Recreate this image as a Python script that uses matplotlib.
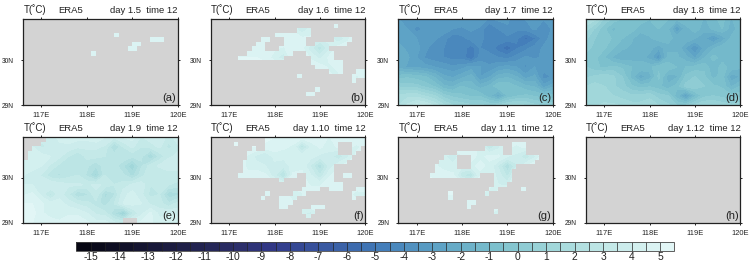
import numpy as np
import matplotlib
matplotlib.use("Agg")
import matplotlib.pyplot as plt
from matplotlib.colors import LinearSegmentedColormap

plt.rcParams['font.family'] = ['Liberation Sans', 'DejaVu Sans']

W, H = 749, 265

days = ["1.5", "1.6", "1.7", "1.8", "1.9", "1.10", "1.11", "1.12"]
letters = ["a", "b", "c", "d", "e", "f", "g", "h"]
xticks = [117, 118, 119, 120]
xticklabels = ["117E", "118E", "119E", "120E"]
yticks = [29, 30]
yticklabels = ["29N", "30N"]
cbar_ticks = list(range(-15, 6))

# temperature fields (top row first)
field_a = [[4.8, 4.6], [4.6, 4.8]]

field_b = [
    [5.2, 5.2, 5.2, 5.2, 5.2, 5.2, 5.2, 5.2, 5.2, 5.0, 4.8, 5.0, 5.0, 4.8, 5.0, 5.2, 5.0, 5.0],
    [5.2, 5.2, 5.2, 5.2, 5.2, 5.2, 5.0, 5.0, 5.0, 4.4, 3.4, 4.2, 4.8, 4.8, 4.6, 4.8, 4.8, 4.8],
    [5.2, 5.2, 5.2, 5.2, 5.2, 5.0, 4.8, 5.0, 5.0, 4.8, 4.6, 4.6, 4.0, 4.2, 3.4, 4.2, 5.0, 5.0],
    [5.2, 5.2, 5.2, 5.0, 4.8, 5.0, 5.0, 4.6, 4.4, 5.0, 4.6, 3.6, 2.6, 3.8, 4.8, 5.0, 5.0, 5.0],
    [5.2, 5.2, 5.2, 5.0, 5.0, 5.0, 4.8, 4.2, 3.6, 5.0, 5.0, 4.4, 3.8, 4.6, 5.0, 5.0, 5.0, 5.0],
    [5.2, 5.2, 5.2, 5.2, 5.2, 5.2, 5.2, 5.0, 5.0, 5.0, 4.8, 4.8, 4.8, 4.4, 4.6, 5.0, 5.0, 4.8],
    [5.2, 5.2, 5.2, 5.2, 5.2, 5.0, 5.0, 5.0, 5.0, 4.8, 4.8, 5.0, 5.0, 4.6, 4.4, 4.8, 4.4, 4.6],
    [5.2, 5.2, 5.2, 5.2, 5.2, 5.2, 5.2, 5.2, 5.0, 5.0, 5.0, 5.0, 5.0, 5.0, 5.0, 5.0, 4.8, 5.0],
    [5.2, 5.2, 5.2, 5.2, 5.2, 5.2, 5.2, 5.2, 5.2, 5.0, 4.8, 4.8, 5.0, 5.0, 5.0, 5.0, 5.0, 5.0],
    [5.2, 5.2, 5.2, 5.2, 5.2, 5.2, 5.2, 5.2, 5.2, 5.2, 5.0, 5.0, 5.0, 5.0, 5.0, 5.0, 5.0, 5.0],
]

field_c = [
    [-3.0, -3.0, -3.0, -3.2, -3.0, -3.0, -3.2, -3.2, -3.0, -3.2, -3.6, -3.4, -3.4, -3.8, -3.5, -3.2, -3.5, -3.2],
    [-2.8, -3.0, -3.8, -3.3, -3.0, -3.2, -3.5, -3.6, -3.4, -3.6, -4.6, -4.0, -3.6, -3.9, -3.8, -3.4, -4.0, -3.4],
    [-2.6, -2.8, -3.0, -3.2, -3.4, -3.8, -4.4, -4.2, -3.8, -3.9, -4.2, -4.0, -4.2, -4.4, -5.2, -4.6, -3.8, -3.2],
    [-2.4, -2.6, -2.8, -3.4, -3.8, -4.0, -4.2, -4.2, -4.8, -4.0, -4.2, -4.8, -5.4, -4.6, -4.2, -3.8, -3.4, -3.2],
    [-2.2, -2.4, -3.0, -3.6, -3.8, -4.0, -4.2, -4.2, -5.0, -3.8, -3.8, -4.0, -4.2, -3.8, -3.4, -3.6, -3.4, -3.0],
    [-2.2, -2.6, -2.6, -2.8, -3.0, -3.2, -3.4, -3.2, -2.8, -3.0, -3.4, -3.0, -2.8, -3.0, -3.6, -3.0, -3.2, -3.2],
    [-0.8, -0.6, -0.8, -1.0, -1.6, -2.4, -2.6, -2.2, -1.8, -3.0, -2.6, -1.8, -1.6, -2.0, -2.8, -2.4, -3.8, -3.4],
    [0.4, 0.2, 0.2, -0.2, -0.6, -1.4, -1.6, -1.0, -1.2, -1.8, -1.4, -0.6, -0.6, -1.0, -1.4, -1.6, -2.8, -2.2],
    [1.6, 1.8, 1.8, 1.4, 1.0, 0.2, -0.2, -0.4, -0.6, -0.6, -1.4, -2.4, -1.0, -0.6, -0.4, -0.6, -0.8, -0.8],
    [2.0, 2.6, 3.2, 3.0, 2.4, 1.6, 1.0, 0.8, 0.6, 0.6, 0.4, 0.6, 1.0, 1.2, 1.0, 0.6, 0.4, 0.4],
]

field_d = [
    [2.0, 1.6, 0.4, -0.2, -0.6, -0.6, -0.8, -1.0, -0.8, -1.0, -1.4, -1.0, -1.0, -1.6, -1.2, -0.8, -1.6, -1.0],
    [1.2, 0.4, -0.4, -1.2, -0.8, -0.8, -1.2, -1.2, -1.0, -1.4, -3.0, -1.8, -1.2, -1.8, -1.4, -1.0, -1.8, -1.2],
    [0.6, 0.0, -0.2, -0.6, -1.0, -1.4, -2.0, -1.6, -1.2, -1.4, -1.6, -1.6, -2.0, -2.4, -3.2, -2.4, -1.4, -1.0],
    [0.2, -0.2, -0.4, -1.0, -1.4, -1.6, -1.8, -1.8, -2.4, -1.6, -1.6, -2.6, -3.6, -2.4, -1.6, -1.2, -1.0, -1.0],
    [-0.2, -0.4, -1.0, -1.6, -2.0, -1.8, -1.8, -2.2, -3.4, -1.4, -1.4, -1.8, -2.6, -1.6, -0.8, -1.2, -1.0, -1.0],
    [0.0, -0.4, -0.6, -0.4, -0.6, -1.0, -1.0, -1.2, -0.6, -0.6, -1.0, -1.0, -0.8, -0.6, -1.4, -0.8, -1.2, -1.4],
    [0.4, 0.6, 0.8, 0.6, 0.0, -1.2, -2.4, -1.8, -0.4, -1.8, -1.6, -0.4, 0.0, -0.4, -1.2, -0.8, -2.4, -2.0],
    [1.0, 1.2, 1.0, 0.6, 0.2, -0.4, -0.8, -0.6, -0.8, -1.4, -0.8, 0.2, 0.4, 0.0, -0.4, -0.6, -1.6, -1.0],
    [1.2, 1.4, 1.2, 1.0, 0.8, 0.6, 0.6, 0.8, 0.2, 0.0, -1.4, -3.0, -1.2, -0.2, 0.0, -0.2, -0.4, -0.2],
    [1.0, 1.4, 1.6, 1.6, 1.4, 1.2, 1.2, 1.4, 1.0, 0.6, 0.0, 0.0, 0.6, 1.0, 1.0, 0.8, 0.6, 0.8],
]

field_e = [
    [4.6, 4.4, 3.6, 3.6, 4.2, 4.4, 4.2, 4.2, 4.4, 4.0, 3.6, 4.0, 4.2, 3.4, 3.8, 4.0, 3.2, 3.8],
    [4.2, 4.0, 3.4, 3.6, 3.8, 3.8, 3.6, 3.6, 3.6, 3.4, 1.8, 3.0, 3.6, 3.0, 3.2, 3.6, 2.8, 3.4],
    [4.4, 4.2, 4.2, 4.0, 3.6, 3.0, 2.4, 3.2, 3.2, 3.0, 2.8, 3.0, 2.6, 2.6, 1.4, 2.6, 3.4, 3.6],
    [4.4, 4.2, 4.0, 3.4, 2.8, 2.8, 2.8, 2.6, 2.0, 2.8, 2.8, 2.0, 1.0, 2.4, 3.2, 3.6, 3.8, 3.6],
    [4.0, 3.8, 3.4, 2.6, 2.4, 2.8, 3.0, 2.4, 1.2, 3.0, 3.0, 2.6, 1.8, 2.8, 3.4, 3.0, 3.2, 3.4],
    [4.0, 4.0, 4.0, 4.0, 3.8, 3.6, 3.6, 3.4, 3.6, 3.4, 3.0, 3.2, 3.6, 3.8, 3.0, 3.4, 3.0, 2.8],
    [4.4, 4.6, 3.8, 2.8, 3.8, 3.0, 2.0, 2.4, 3.4, 1.8, 2.4, 3.8, 4.2, 3.6, 2.8, 3.0, 1.6, 1.8],
    [5.0, 5.0, 4.6, 4.2, 4.2, 3.8, 3.4, 3.2, 2.8, 2.2, 3.0, 4.0, 4.2, 4.0, 3.4, 3.2, 2.6, 3.2],
    [5.2, 5.2, 4.6, 4.2, 4.2, 4.4, 4.4, 4.0, 3.4, 3.2, 2.0, 0.8, 2.8, 3.8, 4.6, 3.8, 4.0, 3.8],
    [5.0, 5.0, 4.8, 4.8, 4.6, 4.8, 4.8, 4.6, 4.2, 4.2, 3.6, 3.4, 4.4, 4.6, 4.6, 4.2, 4.2, 4.4],
]

field_f = [
    [5.2, 5.2, 5.2, 5.2, 5.2, 5.2, 5.2, 5.0, 5.0, 4.8, 4.8, 5.0, 5.0, 4.4, 5.0, 5.0, 4.8, 4.8],
    [5.2, 5.2, 5.2, 5.0, 5.0, 5.0, 4.8, 4.8, 4.6, 4.4, 2.6, 4.0, 4.6, 4.2, 4.6, 4.6, 4.4, 4.6],
    [5.2, 5.2, 5.2, 5.0, 4.4, 3.8, 3.4, 4.2, 4.2, 4.4, 4.4, 4.2, 3.8, 3.8, 3.0, 3.8, 4.6, 4.8],
    [5.2, 5.2, 5.0, 4.8, 4.4, 4.2, 4.0, 3.8, 3.6, 4.2, 4.4, 3.4, 2.0, 3.6, 4.4, 4.8, 5.0, 5.0],
    [5.2, 5.2, 5.0, 4.8, 4.6, 4.8, 4.6, 3.6, 2.2, 4.6, 4.6, 4.0, 3.0, 4.4, 4.8, 4.8, 4.8, 5.0],
    [5.2, 5.2, 5.2, 5.2, 5.2, 5.0, 5.0, 4.8, 4.8, 5.0, 4.8, 4.4, 4.4, 4.8, 4.8, 5.0, 5.0, 4.8],
    [5.2, 5.2, 5.2, 5.2, 5.2, 5.0, 4.8, 4.8, 5.0, 4.0, 4.4, 5.0, 5.0, 4.8, 4.6, 4.8, 4.2, 4.4],
    [5.2, 5.2, 5.2, 5.2, 5.2, 5.0, 4.8, 4.8, 4.8, 4.6, 4.8, 5.0, 5.0, 5.0, 5.0, 5.0, 4.8, 5.0],
    [5.2, 5.2, 5.2, 5.2, 5.2, 5.2, 5.0, 5.0, 4.8, 4.8, 4.0, 3.8, 4.6, 5.0, 5.0, 5.0, 5.0, 5.0],
    [5.2, 5.2, 5.2, 5.2, 5.2, 5.2, 5.2, 5.0, 5.0, 5.0, 5.0, 5.0, 5.0, 5.0, 5.0, 5.0, 5.0, 5.0],
]

field_g = [
    [5.2, 5.2, 5.2, 5.2, 5.2, 5.2, 5.2, 5.0, 5.0, 5.0, 4.6, 4.6, 4.8, 4.8, 4.8, 5.0, 5.0, 5.0],
    [5.2, 5.2, 5.2, 5.2, 5.2, 5.2, 5.0, 5.0, 4.8, 4.4, 3.0, 3.8, 4.6, 4.4, 4.6, 4.8, 4.8, 4.8],
    [5.2, 5.2, 5.2, 5.2, 5.0, 4.2, 3.4, 4.4, 4.6, 4.4, 4.6, 4.6, 4.0, 3.8, 3.0, 3.8, 5.0, 5.0],
    [5.2, 5.2, 5.2, 5.0, 4.6, 4.2, 4.2, 4.2, 4.4, 4.6, 4.4, 3.4, 2.0, 3.4, 4.4, 5.0, 5.0, 5.0],
    [5.2, 5.2, 5.2, 5.0, 4.8, 4.8, 4.6, 3.0, 2.4, 4.4, 4.4, 3.8, 2.8, 4.4, 4.8, 5.0, 5.0, 5.0],
    [5.2, 5.2, 5.2, 5.2, 5.2, 5.2, 5.2, 5.0, 5.0, 5.0, 4.6, 4.0, 3.8, 5.0, 5.0, 5.0, 5.0, 5.0],
    [5.2, 5.2, 5.2, 5.2, 4.6, 5.0, 5.0, 4.8, 5.0, 4.4, 4.4, 4.8, 5.0, 4.8, 4.6, 5.0, 5.0, 5.0],
    [5.2, 5.2, 5.2, 5.2, 5.0, 5.0, 5.0, 4.8, 5.0, 5.0, 4.8, 4.8, 5.0, 5.0, 5.0, 5.0, 5.0, 5.0],
    [5.2, 5.2, 5.2, 5.2, 5.2, 5.2, 5.0, 4.8, 5.0, 5.0, 4.6, 4.2, 4.6, 5.0, 5.0, 5.0, 5.0, 5.0],
    [5.2, 5.2, 5.2, 5.2, 5.2, 5.2, 5.2, 5.0, 5.0, 5.0, 5.0, 5.0, 5.0, 5.0, 5.0, 5.0, 5.0, 5.0],
]

field_h = [[4.8, 4.6], [4.6, 4.8]]

# grid boxes with data: (row from top, first col, last col)
filled_a = [(3, 20, 20), (4, 28, 30), (5, 24, 25), (6, 23, 24), (7, 15, 15)]

filled_b = [(1, 27, 27), (2, 19, 21), (3, 14, 21), (4, 11, 12), (4, 16, 20), (4, 27, 30),
            (5, 10, 11), (5, 16, 20), (5, 23, 29), (6, 9, 11), (6, 15, 25),
            (7, 8, 17), (7, 21, 26), (8, 6, 15), (8, 22, 26), (9, 22, 28), (10, 23, 28),
            (11, 26, 28), (11, 32, 33), (12, 19, 19), (12, 31, 33), (13, 31, 31),
            (15, 23, 23), (16, 21, 22)]

filled_f = [(0, 12, 33), (1, 5, 5), (1, 12, 27), (1, 31, 33), (2, 9, 9), (2, 12, 27), (2, 31, 32),
            (3, 8, 27), (3, 31, 31), (4, 8, 30), (5, 7, 29), (6, 7, 26), (7, 7, 26),
            (8, 6, 18), (8, 21, 26), (8, 29, 30), (9, 15, 15), (9, 21, 26), (10, 21, 28),
            (11, 20, 23), (11, 26, 28), (11, 32, 33), (12, 12, 12), (12, 18, 20), (12, 31, 33),
            (13, 11, 11), (13, 15, 18), (13, 31, 31), (14, 15, 17), (15, 15, 16), (15, 22, 24),
            (16, 20, 22), (17, 21, 21)]

filled_g = [(1, 25, 27), (2, 19, 22), (2, 25, 27), (3, 13, 22), (3, 25, 27),
            (4, 10, 12), (4, 16, 30), (5, 9, 12), (5, 16, 29), (6, 8, 12), (6, 16, 25),
            (7, 8, 24), (8, 7, 17), (8, 21, 24), (9, 21, 24), (10, 21, 23),
            (11, 20, 21), (11, 27, 27), (12, 11, 11), (12, 19, 19), (13, 11, 11),
            (14, 15, 16), (15, 15, 15), (16, 21, 21)]

# panel e is the other way round, only these boxes are missing
empty_e = [(0, 0, 4), (1, 0, 3), (2, 0, 1), (3, 0, 0), (4, 0, 0), (18, 22, 24)]

fields = [field_a, field_b, field_c, field_d, field_e, field_f, field_g, field_h]

levels = np.arange(-15.5, 5.6, 0.5)
cmap = LinearSegmentedColormap.from_list("t_anom", [
    (0.00, "#05050f"), (0.14, "#1a1a3c"), (0.27, "#2b2e68"), (0.33, "#32398a"),
    (0.50, "#4079b8"), (0.60, "#5ca1c5"), (0.69, "#78bdcc"), (0.78, "#99d3d7"),
    (0.88, "#c0e7e6"), (1.00, "#e6f8f8"),
])

grey = "#d3d3d3"
frame = "#222222"


def box_mask(filled=None, empty=None):
    # True where the box is grey
    if filled is not None:
        m = np.ones((19, 34), dtype=bool)
        for r, c0, c1 in filled:
            m[r, c0:c1 + 1] = False
    else:
        m = np.zeros((19, 34), dtype=bool)
        for r, c0, c1 in empty or []:
            m[r, c0:c1 + 1] = True
    return m[::-1]


masks = [box_mask(filled_a), box_mask(filled_b), box_mask(empty=[]), box_mask(empty=[]),
         box_mask(empty=empty_e), box_mask(filled_f), box_mask(filled_g), box_mask([])]

fig = plt.figure(figsize=(W / 100, H / 100), dpi=100)

col_left = [23.3, 211.0, 398.4, 586.0]
col_w = 154.4
row_top = [19.3, 137.3]
row_h = [86.0, 85.4]

lon_edges = np.linspace(116.6, 120, 35)
lat_edges = np.linspace(29, 30.9, 20)

cf = None
for i in range(8):
    row, col = i // 4, i % 4
    left = col_left[col] / W
    bottom = 1 - (row_top[row] + row_h[row]) / H
    ax = fig.add_axes([left, bottom, col_w / W, row_h[row] / H])

    z = np.array(fields[i])[::-1]
    lons = np.linspace(116.6, 120, z.shape[1])
    lats = np.linspace(29, 30.9, z.shape[0])
    cs = ax.contourf(lons, lats, z, levels=levels, cmap=cmap, extend="neither")
    cs.set_edgecolor("face")
    cs.set_linewidth(0.15)
    if i == 2:
        cf = cs

    ax.pcolormesh(lon_edges, lat_edges, np.ma.masked_where(~masks[i], masks[i].astype(float)),
                  cmap=LinearSegmentedColormap.from_list("g", [grey, grey]), shading="flat",
                  linewidth=0, antialiased=False)

    ax.set_xlim(116.6, 120)
    ax.set_ylim(29, 30.9)
    ax.set_xticks(xticks)
    ax.set_xticklabels(xticklabels)
    ax.set_yticks(yticks)
    ax.set_yticklabels(yticklabels)
    ax.tick_params(direction="out", top=True, right=True, length=1.6, width=0.7, color=frame,
                   labelcolor="#222222")
    ax.tick_params(axis="x", labelsize=5.4, pad=3.4)
    ax.tick_params(axis="y", labelsize=4.8, pad=5.0)
    for s in ax.spines.values():
        s.set_linewidth(0.9)
        s.set_color(frame)

    ax.text(0.0, 1.07, "T(˚C)", transform=ax.transAxes, fontsize=7, color="#222222")
    ax.text(0.225, 1.07, "ERA5", transform=ax.transAxes, fontsize=6.8, color="#222222")
    ax.text(1.0, 1.07, "day %s  time 12" % days[i], transform=ax.transAxes, fontsize=6.8,
            ha="right", color="#222222")
    ax.text(0.99, 0.045, "(%s)" % letters[i], transform=ax.transAxes, fontsize=8, ha="right",
            color="#222222")

cax = fig.add_axes([76.3 / W, 1 - 250.7 / H, 598.0 / W, 8.7 / H])
cb = fig.colorbar(cf, cax=cax, orientation="horizontal", ticks=cbar_ticks, drawedges=True)
cb.ax.set_xticklabels([str(t) for t in cbar_ticks])
cb.ax.tick_params(length=0, labelsize=7.4, pad=1.2, labelcolor="#222222")
cb.dividers.set_color("#222222")
cb.dividers.set_linewidth(0.5)
cb.outline.set_edgecolor("#444444")
cb.outline.set_linewidth(0.6)

fig.savefig("out.png", dpi=100)
